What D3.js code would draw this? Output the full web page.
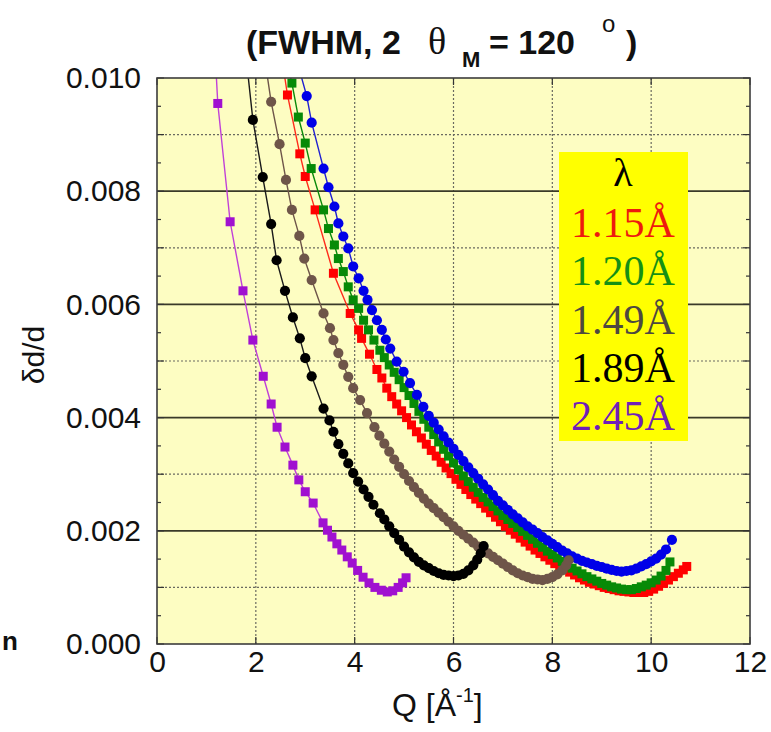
<!DOCTYPE html>
<html><head><meta charset="utf-8">
<script src="https://cdn.jsdelivr.net/npm/d3@7"></script>
<style>body{margin:0;background:#fff}svg{display:block}</style>
</head><body>
<svg id="c" width="771" height="732"></svg>
<script>
// ---- data (Q [1/Å], δd/d) ----
const xTicks = [0, 2, 4, 6, 8, 10, 12];
const yTicks = [0, 0.002, 0.004, 0.006, 0.008, 0.010];
const yMinorGrid = [0.001, 0.003, 0.005, 0.007, 0.009];
const legendLabels = ["1.15Å", "1.20Å", "1.49Å", "1.89Å", "2.45Å"];

const red115 = [[2.45,0.0108],[2.64,0.00970],[2.89,0.00866],[3.00,0.00826],[3.20,0.00767],[3.57,0.00655],[3.91,0.00584],[4.08,0.00555],[4.14,0.00540],[4.30,0.00512],[4.45,0.00485],
 [4.55,0.00470],[4.65,0.00452],[4.75,0.00437],[4.85,0.00424],[4.95,0.00412],[5.05,0.00400],[5.15,0.00387],[5.25,0.00375],[5.35,0.00364],[5.45,0.00353],[5.55,0.00342],[5.65,0.00332],[5.75,0.00321],[5.85,0.00311],[5.95,0.00301],[6.05,0.00291],[6.15,0.00282],[6.25,0.00273],[6.35,0.00264],[6.45,0.00256],[6.55,0.00248],[6.65,0.00240],[6.75,0.00232],[6.85,0.00224],[6.95,0.00216],[7.05,0.00208],[7.15,0.00201],[7.25,0.00194],[7.35,0.00187],[7.45,0.00180],[7.55,0.00173],[7.65,0.00166],[7.75,0.00160],[7.85,0.00154],[7.95,0.00148],[8.05,0.00142],[8.15,0.00137],[8.25,0.00132],[8.35,0.00127],[8.45,0.00122],[8.55,0.00117],[8.65,0.00113],[8.75,0.00109],[8.85,0.00106],[8.95,0.00103],[9.05,0.00100],[9.15,0.00098],[9.25,0.00096],[9.35,0.00094],[9.45,0.00093],[9.55,0.00092],[9.65,0.00091],[9.75,0.00091],[9.85,0.00091],[9.95,0.00093],[10.05,0.00097],[10.15,0.00102],[10.25,0.00107],[10.35,0.00113],[10.45,0.00119],[10.55,0.00125],[10.65,0.00131],[10.72,0.00137]];

const green120 = [[2.60,0.0104],[2.73,0.00991],[2.86,0.00931],[3.00,0.00885],[3.12,0.00840],[3.37,0.00767],[3.47,0.00734],[3.59,0.00705],[3.67,0.00681],[3.77,0.00658],[3.87,0.00631],[3.97,0.00608],[4.08,0.00593],[4.18,0.00572],[4.28,0.00555],[4.39,0.00537],[4.51,0.00519],
 [4.60,0.00506],[4.70,0.00493],[4.80,0.00480],[4.90,0.00467],[5.00,0.00453],[5.10,0.00439],[5.20,0.00425],[5.30,0.00411],[5.40,0.00397],[5.50,0.00383],[5.60,0.00370],[5.70,0.00357],[5.80,0.00344],[5.90,0.00332],[6.00,0.00320],[6.10,0.00308],[6.20,0.00297],[6.30,0.00287],[6.40,0.00277],[6.50,0.00268],[6.60,0.00259],[6.70,0.00251],[6.80,0.00243],[6.90,0.00235],[7.00,0.00227],[7.10,0.00220],[7.20,0.00213],[7.30,0.00206],[7.40,0.00199],[7.50,0.00192],[7.60,0.00185],[7.70,0.00178],[7.80,0.00171],[7.90,0.00164],[8.00,0.00158],[8.10,0.00152],[8.20,0.00146],[8.30,0.00140],[8.40,0.00134],[8.50,0.00129],[8.60,0.00124],[8.70,0.00119],[8.80,0.00115],[8.90,0.00111],[9.00,0.00107],[9.10,0.00104],[9.20,0.00101],[9.30,0.00099],[9.40,0.00097],[9.50,0.00096],[9.60,0.00096],[9.70,0.00098],[9.80,0.00101],[9.90,0.00104],[10.00,0.00108],[10.10,0.00113],[10.20,0.00120],[10.30,0.00130],[10.38,0.00145]];

const blueSeries = [[2.80,0.0104],[3.03,0.00968],[3.13,0.00921],[3.37,0.00840],[3.47,0.00807],[3.59,0.00773],[3.67,0.00743],[3.77,0.00720],[3.87,0.00699],[3.97,0.00667],[4.08,0.00646],[4.18,0.00624],[4.26,0.00608],[4.35,0.00590],[4.45,0.00572],[4.55,0.00555],[4.63,0.00538],[4.72,0.00522],[4.85,0.00499],[4.99,0.00481],[5.12,0.00461],[5.26,0.00440],[5.39,0.00419],
 [5.50,0.00403],[5.60,0.00391],[5.70,0.00379],[5.80,0.00367],[5.90,0.00356],[6.00,0.00345],[6.10,0.00334],[6.20,0.00323],[6.30,0.00312],[6.40,0.00302],[6.50,0.00292],[6.60,0.00282],[6.70,0.00273],[6.80,0.00263],[6.90,0.00253],[7.00,0.00245],[7.10,0.00237],[7.20,0.00229],[7.30,0.00222],[7.40,0.00215],[7.50,0.00208],[7.60,0.00202],[7.70,0.00196],[7.80,0.00189],[7.90,0.00183],[8.00,0.00177],[8.10,0.00171],[8.20,0.00165],[8.30,0.00160],[8.40,0.00155],[8.50,0.00151],[8.60,0.00147],[8.70,0.00144],[8.80,0.00141],[8.90,0.00138],[9.00,0.00136],[9.10,0.00133],[9.20,0.00131],[9.30,0.00129],[9.40,0.00128],[9.50,0.00129],[9.60,0.00130],[9.70,0.00133],[9.80,0.00137],[9.90,0.00141],[10.00,0.00146],[10.10,0.00151],[10.20,0.00158],[10.30,0.00167],[10.42,0.00184]];

const brown149 = [[2.10,0.0108],[2.31,0.00958],[2.48,0.00883],[2.61,0.00820],[2.73,0.00767],[2.88,0.00721],[2.98,0.00681],[3.13,0.00643],[3.37,0.00584],[3.50,0.00558],[3.57,0.00537],[3.67,0.00514],[3.77,0.00493],[3.87,0.00472],[3.97,0.00452],[4.11,0.00431],[4.25,0.00408],
 [4.40,0.00383],[4.50,0.00368],[4.60,0.00354],[4.70,0.00340],[4.80,0.00326],[4.90,0.00313],[5.00,0.00300],[5.10,0.00288],[5.20,0.00277],[5.30,0.00267],[5.40,0.00257],[5.50,0.00248],[5.60,0.00240],[5.70,0.00232],[5.80,0.00224],[5.90,0.00216],[6.00,0.00208],[6.10,0.00200],[6.20,0.00193],[6.30,0.00186],[6.40,0.00179],[6.50,0.00172],[6.60,0.00166],[6.70,0.00160],[6.80,0.00154],[6.90,0.00148],[7.00,0.00142],[7.10,0.00136],[7.20,0.00130],[7.30,0.00125],[7.40,0.00121],[7.50,0.00118],[7.60,0.00115],[7.70,0.00114],[7.80,0.00113],[7.90,0.00115],[8.00,0.00118],[8.10,0.00123],[8.20,0.00130],[8.28,0.00139],[8.33,0.00148]];

const black189 = [[1.70,0.0112],[1.94,0.00926],[2.14,0.00825],[2.31,0.00742],[2.42,0.00678],[2.59,0.00624],[2.75,0.00577],[2.89,0.00540],[3.00,0.00505],[3.13,0.00473],[3.37,0.00416],[3.49,0.00395],[3.57,0.00375],[3.67,0.00353],[3.77,0.00336],[3.87,0.00319],[3.97,0.00302],[4.07,0.00287],[4.18,0.00273],[4.28,0.00260],[4.38,0.00246],
 [4.51,0.00231],[4.60,0.00220],[4.70,0.00208],[4.80,0.00196],[4.90,0.00184],[5.00,0.00172],[5.10,0.00162],[5.20,0.00153],[5.30,0.00145],[5.40,0.00139],[5.50,0.00134],[5.60,0.00129],[5.70,0.00125],[5.80,0.00122],[5.90,0.00121],[6.00,0.00120],[6.10,0.00121],[6.20,0.00124],[6.30,0.00130],[6.40,0.00139],[6.48,0.00149],[6.55,0.00160],[6.61,0.00173]];

const purple245 = [[1.05,0.0125],[1.23,0.00955],[1.48,0.00746],[1.74,0.00624],[1.94,0.00537],[2.15,0.00473],[2.31,0.00424],[2.43,0.00383],[2.59,0.00348],[2.75,0.00316],[2.87,0.00290],[3.00,0.00269],[3.16,0.00249],[3.36,0.00214],[3.45,0.00201],[3.54,0.00189],[3.64,0.00177],[3.74,0.00166],[3.85,0.00154],[3.95,0.00143],[4.06,0.00130],[4.17,0.00118],[4.29,0.00108],[4.41,0.00100],[4.54,0.00095],[4.66,0.00092],[4.77,0.00094],[4.88,0.00100],[4.97,0.00108],[5.04,0.00117]];

const series = [
  {data: red115,    fill: "#ff0000", line: "#ff2a1a", shape: "square"},
  {data: green120,  fill: "#078a07", line: "#0a8a0a", shape: "square"},
  {data: blueSeries,fill: "#0000e8", line: "#2020d0", shape: "circle"},
  {data: brown149,  fill: "#6e5549", line: "#6e5549", shape: "circle"},
  {data: black189,  fill: "#000000", line: "#1a1a1a", shape: "circle"},
  {data: purple245, fill: "#a010d0", line: "#c040d8", shape: "square"}
];
const legendColors = ["#ee1a0e", "#159015", "#4e4840", "#000000", "#7020b8"];

// ---- layout ----
const svg = d3.select("#c");
const L = 157, R = 750, T = 78, B = 644;
const x = d3.scaleLinear().domain([0, 12]).range([L, R]);
const y = d3.scaleLinear().domain([0, 0.010]).range([B, T]);

svg.append("rect").attr("x", L).attr("y", T).attr("width", R - L).attr("height", B - T).attr("fill", "#fdfdc2");

// grid
const g = svg.append("g");
g.selectAll(".vg").data(xTicks.slice(1, -1)).join("line")
  .attr("x1", d => x(d)).attr("x2", d => x(d)).attr("y1", T).attr("y2", B)
  .attr("stroke", "#6a6a60").attr("stroke-width", 1.2).attr("stroke-dasharray", "2,2");
g.selectAll(".hm").data(yMinorGrid).join("line")
  .attr("x1", L).attr("x2", R).attr("y1", d => y(d)).attr("y2", d => y(d))
  .attr("stroke", "#6a6a60").attr("stroke-width", 1.2).attr("stroke-dasharray", "2,2");
g.selectAll(".hs").data(yTicks.slice(1, -1)).join("line")
  .attr("x1", L).attr("x2", R).attr("y1", d => y(d)).attr("y2", d => y(d))
  .attr("stroke", "#3a3a28").attr("stroke-width", 1.8);

// inward ticks
const tk = svg.append("g").attr("stroke", "#333").attr("stroke-width", 1.2);
d3.range(0, 0.01001, 0.0005).forEach(v => {
  const len = (Math.round(v * 10000) % 10 === 0) ? 7 : 4;
  tk.append("line").attr("x1", L).attr("x2", L + len).attr("y1", y(v)).attr("y2", y(v));
  tk.append("line").attr("x1", R).attr("x2", R - len).attr("y1", y(v)).attr("y2", y(v));
});
xTicks.forEach(v => {
  tk.append("line").attr("x1", x(v)).attr("x2", x(v)).attr("y1", B).attr("y2", B - 7);
  tk.append("line").attr("x1", x(v)).attr("x2", x(v)).attr("y1", T).attr("y2", T + 7);
});

// legend box
svg.append("rect").attr("x", 559).attr("y", 152).attr("width", 129).attr("height", 289).attr("fill", "#ffff00");

// series
svg.append("clipPath").attr("id", "clip").append("rect").attr("x", L).attr("y", T).attr("width", R - L).attr("height", B - T);
const plot = svg.append("g").attr("clip-path", "url(#clip)");
const line = d3.line().x(d => x(d[0])).y(d => y(d[1]));
series.forEach(s => {
  const gs = plot.append("g");
  gs.append("path").attr("d", line(s.data)).attr("fill", "none").attr("stroke", s.line).attr("stroke-width", 1.4);
  if (s.shape === "circle") {
    gs.selectAll("circle").data(s.data).join("circle")
      .attr("cx", d => x(d[0])).attr("cy", d => y(d[1])).attr("r", 5.1).attr("fill", s.fill);
  } else {
    gs.selectAll("rect").data(s.data).join("rect")
      .attr("x", d => x(d[0]) - 4.5).attr("y", d => y(d[1]) - 4.5).attr("width", 9).attr("height", 9).attr("fill", s.fill);
  }
});

// frame
svg.append("rect").attr("x", L).attr("y", T).attr("width", R - L).attr("height", B - T)
  .attr("fill", "none").attr("stroke", "#3c3c3c").attr("stroke-width", 1.6);

// axes labels
const font = "'Liberation Sans', Arial, Helvetica, sans-serif";
const ax = svg.append("g").attr("transform", `translate(0,${B})`)
  .call(d3.axisBottom(x).tickValues(xTicks).tickSize(0).tickPadding(7).tickFormat(d3.format("d")));
ax.select(".domain").remove();
ax.selectAll("text").attr("font-family", font).attr("font-size", 30).attr("fill", "#111");
const ay = svg.append("g").attr("transform", `translate(${L},0)`)
  .call(d3.axisLeft(y).tickValues(yTicks).tickSize(0).tickPadding(16).tickFormat(d3.format(".3f")));
ay.select(".domain").remove();
ay.selectAll("text").attr("font-family", font).attr("font-size", 30).attr("fill", "#111");

svg.append("text").attr("transform", "translate(44,355) rotate(-90)").attr("text-anchor", "middle")
  .attr("font-family", font).attr("font-size", 30).attr("fill", "#111").text("δd/d");

const xl = svg.append("text").attr("x", 392).attr("y", 716).attr("font-family", font).attr("font-size", 32).attr("fill", "#111");
xl.append("tspan").text("Q [Å");
xl.append("tspan").attr("font-size", 20).attr("dy", -14).text("-1");
xl.append("tspan").attr("dy", 14).text("]");

// title
const serif = "'Liberation Serif', 'Times New Roman', serif";
const tt = svg.append("g").attr("font-family", font).attr("font-weight", "bold").attr("fill", "#111");
tt.append("text").attr("x", 246).attr("y", 54).attr("font-size", 34).text("(FWHM, 2");
tt.append("text").attr("x", 428).attr("y", 54).attr("font-size", 38).attr("font-family", serif).attr("font-weight", "normal").text("θ");
tt.append("text").attr("x", 462).attr("y", 67).attr("font-size", 22).text("M");
tt.append("text").attr("x", 489).attr("y", 54).attr("font-size", 34).text("= 120");
tt.append("text").attr("x", 602).attr("y", 32).attr("font-size", 24).attr("font-weight", "normal").text("o");
tt.append("text").attr("x", 626).attr("y", 54).attr("font-size", 34).text(")");

// stray cut-off glyph at left
svg.append("text").attr("x", 2).attr("y", 650).attr("font-family", font).attr("font-weight", "bold").attr("font-size", 26).attr("fill", "#111").text("n");

// legend text
svg.append("text").attr("x", 623).attr("y", 186).attr("text-anchor", "middle").attr("font-family", serif).attr("font-size", 40).attr("fill", "#000").text("λ");
const legY = [237, 285, 334, 382, 430];
legendLabels.forEach((t, i) => {
  svg.append("text").attr("x", 623).attr("y", legY[i]).attr("text-anchor", "middle")
    .attr("font-family", serif).attr("font-size", 42).attr("fill", legendColors[i]).text(t);
});
</script>
</body></html>
